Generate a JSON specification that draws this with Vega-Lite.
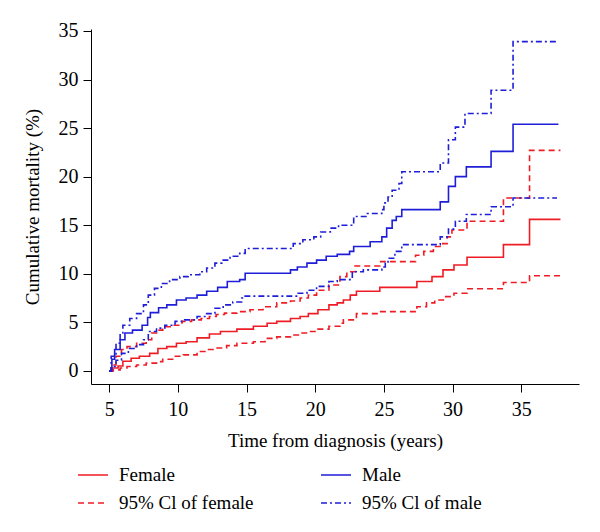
{
  "$schema": "https://vega.github.io/schema/vega-lite/v6.json",
  "width": 488,
  "height": 355,
  "autosize": "none",
  "padding": {"left": 91, "top": 29, "right": 21, "bottom": 148},
  "background": "white",
  "config": {
    "view": {"stroke": null},
    "font": "Liberation Serif",
    "axis": {
      "grid": false,
      "domainColor": "#000000",
      "domainWidth": 1,
      "tickColor": "#000000",
      "tickWidth": 1,
      "tickSize": 8,
      "labelFont": "Liberation Serif",
      "labelFontSize": 20,
      "labelColor": "#000000",
      "titleFont": "Liberation Serif",
      "titleFontSize": 19,
      "titleFontWeight": "normal",
      "titleColor": "#000000"
    },
    "legend": {
      "labelFont": "Liberation Serif",
      "labelFontSize": 19,
      "labelColor": "#000000"
    }
  },
  "data": {
    "values": [
      {"curve":"F","series":"Female","t":5.0,"v":0},{"curve":"F","series":"Female","t":5.2,"v":0.3},{"curve":"F","series":"Female","t":5.65,"v":0.5},{"curve":"F","series":"Female","t":6.0,"v":1.0},{"curve":"F","series":"Female","t":6.6,"v":1.3},{"curve":"F","series":"Female","t":7.2,"v":1.5},{"curve":"F","series":"Female","t":7.95,"v":1.8},{"curve":"F","series":"Female","t":8.55,"v":2.3},{"curve":"F","series":"Female","t":9.2,"v":2.5},{"curve":"F","series":"Female","t":9.9,"v":2.85},{"curve":"F","series":"Female","t":10.6,"v":3.0},{"curve":"F","series":"Female","t":11.4,"v":3.4},{"curve":"F","series":"Female","t":12.3,"v":3.8},{"curve":"F","series":"Female","t":13.1,"v":4.05},{"curve":"F","series":"Female","t":14.3,"v":4.3},{"curve":"F","series":"Female","t":15.5,"v":4.6},{"curve":"F","series":"Female","t":16.5,"v":4.9},{"curve":"F","series":"Female","t":17.2,"v":5.1},{"curve":"F","series":"Female","t":18.2,"v":5.4},{"curve":"F","series":"Female","t":18.9,"v":5.6},{"curve":"F","series":"Female","t":19.5,"v":5.9},{"curve":"F","series":"Female","t":20.2,"v":6.3},{"curve":"F","series":"Female","t":21.0,"v":6.8},{"curve":"F","series":"Female","t":21.6,"v":7.0},{"curve":"F","series":"Female","t":22.05,"v":7.3},{"curve":"F","series":"Female","t":22.55,"v":7.8},{"curve":"F","series":"Female","t":23.0,"v":8.2},{"curve":"F","series":"Female","t":24.7,"v":8.6},{"curve":"F","series":"Female","t":27.4,"v":9.2},{"curve":"F","series":"Female","t":28.5,"v":9.7},{"curve":"F","series":"Female","t":29.3,"v":10.4},{"curve":"F","series":"Female","t":30.1,"v":10.9},{"curve":"F","series":"Female","t":31.05,"v":11.7},{"curve":"F","series":"Female","t":33.7,"v":13.0},{"curve":"F","series":"Female","t":35.6,"v":15.6},{"curve":"F","series":"Female","t":37.85,"v":15.6},

      {"curve":"FU","series":"95% Cl of female","t":5.0,"v":0},{"curve":"FU","series":"95% Cl of female","t":5.15,"v":0.6},{"curve":"FU","series":"95% Cl of female","t":5.5,"v":1.5},{"curve":"FU","series":"95% Cl of female","t":5.9,"v":2.2},{"curve":"FU","series":"95% Cl of female","t":6.3,"v":2.5},{"curve":"FU","series":"95% Cl of female","t":7.0,"v":2.85},{"curve":"FU","series":"95% Cl of female","t":7.7,"v":3.2},{"curve":"FU","series":"95% Cl of female","t":8.1,"v":3.9},{"curve":"FU","series":"95% Cl of female","t":8.45,"v":4.2},{"curve":"FU","series":"95% Cl of female","t":8.9,"v":4.55},{"curve":"FU","series":"95% Cl of female","t":9.55,"v":4.7},{"curve":"FU","series":"95% Cl of female","t":10.3,"v":5.1},{"curve":"FU","series":"95% Cl of female","t":11.0,"v":5.25},{"curve":"FU","series":"95% Cl of female","t":11.7,"v":5.4},{"curve":"FU","series":"95% Cl of female","t":12.3,"v":5.6},{"curve":"FU","series":"95% Cl of female","t":12.8,"v":5.8},{"curve":"FU","series":"95% Cl of female","t":13.4,"v":5.95},{"curve":"FU","series":"95% Cl of female","t":14.3,"v":6.1},{"curve":"FU","series":"95% Cl of female","t":15.25,"v":6.3},{"curve":"FU","series":"95% Cl of female","t":16.2,"v":6.6},{"curve":"FU","series":"95% Cl of female","t":17.2,"v":7.0},{"curve":"FU","series":"95% Cl of female","t":18.2,"v":7.2},{"curve":"FU","series":"95% Cl of female","t":18.9,"v":7.5},{"curve":"FU","series":"95% Cl of female","t":19.5,"v":7.8},{"curve":"FU","series":"95% Cl of female","t":20.1,"v":8.3},{"curve":"FU","series":"95% Cl of female","t":21.0,"v":8.85},{"curve":"FU","series":"95% Cl of female","t":21.8,"v":9.7},{"curve":"FU","series":"95% Cl of female","t":22.3,"v":10.2},{"curve":"FU","series":"95% Cl of female","t":22.9,"v":10.8},{"curve":"FU","series":"95% Cl of female","t":24.7,"v":11.25},{"curve":"FU","series":"95% Cl of female","t":27.3,"v":11.9},{"curve":"FU","series":"95% Cl of female","t":27.9,"v":12.3},{"curve":"FU","series":"95% Cl of female","t":28.6,"v":12.8},{"curve":"FU","series":"95% Cl of female","t":29.2,"v":13.1},{"curve":"FU","series":"95% Cl of female","t":29.6,"v":13.8},{"curve":"FU","series":"95% Cl of female","t":29.95,"v":14.5},{"curve":"FU","series":"95% Cl of female","t":31.05,"v":15.4},{"curve":"FU","series":"95% Cl of female","t":33.7,"v":17.8},{"curve":"FU","series":"95% Cl of female","t":35.6,"v":22.7},{"curve":"FU","series":"95% Cl of female","t":37.85,"v":22.7},

      {"curve":"FL","series":"95% Cl of female","t":5.0,"v":0},{"curve":"FL","series":"95% Cl of female","t":5.3,"v":0.1},{"curve":"FL","series":"95% Cl of female","t":5.8,"v":0.3},{"curve":"FL","series":"95% Cl of female","t":6.3,"v":0.45},{"curve":"FL","series":"95% Cl of female","t":7.0,"v":0.6},{"curve":"FL","series":"95% Cl of female","t":7.7,"v":0.8},{"curve":"FL","series":"95% Cl of female","t":8.45,"v":0.95},{"curve":"FL","series":"95% Cl of female","t":8.9,"v":1.2},{"curve":"FL","series":"95% Cl of female","t":9.7,"v":1.5},{"curve":"FL","series":"95% Cl of female","t":10.4,"v":1.65},{"curve":"FL","series":"95% Cl of female","t":11.4,"v":2.0},{"curve":"FL","series":"95% Cl of female","t":12.1,"v":2.2},{"curve":"FL","series":"95% Cl of female","t":12.8,"v":2.35},{"curve":"FL","series":"95% Cl of female","t":13.55,"v":2.6},{"curve":"FL","series":"95% Cl of female","t":14.3,"v":2.85},{"curve":"FL","series":"95% Cl of female","t":15.5,"v":3.0},{"curve":"FL","series":"95% Cl of female","t":16.35,"v":3.35},{"curve":"FL","series":"95% Cl of female","t":17.2,"v":3.5},{"curve":"FL","series":"95% Cl of female","t":18.2,"v":3.7},{"curve":"FL","series":"95% Cl of female","t":18.9,"v":3.9},{"curve":"FL","series":"95% Cl of female","t":19.6,"v":4.05},{"curve":"FL","series":"95% Cl of female","t":20.2,"v":4.3},{"curve":"FL","series":"95% Cl of female","t":21.0,"v":4.6},{"curve":"FL","series":"95% Cl of female","t":21.8,"v":4.9},{"curve":"FL","series":"95% Cl of female","t":22.05,"v":5.25},{"curve":"FL","series":"95% Cl of female","t":23.0,"v":5.9},{"curve":"FL","series":"95% Cl of female","t":24.7,"v":6.1},{"curve":"FL","series":"95% Cl of female","t":27.4,"v":6.6},{"curve":"FL","series":"95% Cl of female","t":28.1,"v":7.0},{"curve":"FL","series":"95% Cl of female","t":28.7,"v":7.3},{"curve":"FL","series":"95% Cl of female","t":29.5,"v":7.65},{"curve":"FL","series":"95% Cl of female","t":30.1,"v":8.0},{"curve":"FL","series":"95% Cl of female","t":31.05,"v":8.45},{"curve":"FL","series":"95% Cl of female","t":33.7,"v":9.1},{"curve":"FL","series":"95% Cl of female","t":35.6,"v":9.8},{"curve":"FL","series":"95% Cl of female","t":37.85,"v":9.8},

      {"curve":"M","series":"Male","t":5.0,"v":0},{"curve":"M","series":"Male","t":5.2,"v":1.2},{"curve":"M","series":"Male","t":5.4,"v":2.2},{"curve":"M","series":"Male","t":5.8,"v":3.2},{"curve":"M","series":"Male","t":6.15,"v":3.9},{"curve":"M","series":"Male","t":6.7,"v":4.2},{"curve":"M","series":"Male","t":7.4,"v":4.7},{"curve":"M","series":"Male","t":7.8,"v":5.5},{"curve":"M","series":"Male","t":8.0,"v":6.0},{"curve":"M","series":"Male","t":8.6,"v":6.5},{"curve":"M","series":"Male","t":9.2,"v":6.8},{"curve":"M","series":"Male","t":9.9,"v":7.3},{"curve":"M","series":"Male","t":10.6,"v":7.5},{"curve":"M","series":"Male","t":11.4,"v":7.8},{"curve":"M","series":"Male","t":12.1,"v":8.2},{"curve":"M","series":"Male","t":12.9,"v":8.6},{"curve":"M","series":"Male","t":13.6,"v":9.2},{"curve":"M","series":"Male","t":14.5,"v":9.4},{"curve":"M","series":"Male","t":14.9,"v":10.05},{"curve":"M","series":"Male","t":18.2,"v":10.4},{"curve":"M","series":"Male","t":18.7,"v":10.7},{"curve":"M","series":"Male","t":19.4,"v":11.1},{"curve":"M","series":"Male","t":20.1,"v":11.4},{"curve":"M","series":"Male","t":20.8,"v":11.8},{"curve":"M","series":"Male","t":21.6,"v":12.0},{"curve":"M","series":"Male","t":22.5,"v":12.3},{"curve":"M","series":"Male","t":22.8,"v":12.8},{"curve":"M","series":"Male","t":24.0,"v":13.3},{"curve":"M","series":"Male","t":24.85,"v":13.8},{"curve":"M","series":"Male","t":25.2,"v":14.7},{"curve":"M","series":"Male","t":25.6,"v":15.5},{"curve":"M","series":"Male","t":25.9,"v":15.9},{"curve":"M","series":"Male","t":26.3,"v":16.6},{"curve":"M","series":"Male","t":29.1,"v":17.4},{"curve":"M","series":"Male","t":29.7,"v":19.0},{"curve":"M","series":"Male","t":30.2,"v":20.0},{"curve":"M","series":"Male","t":31.0,"v":21.0},{"curve":"M","series":"Male","t":32.8,"v":22.6},{"curve":"M","series":"Male","t":34.4,"v":25.4},{"curve":"M","series":"Male","t":37.7,"v":25.4},

      {"curve":"MU","series":"95% Cl of male","t":5.0,"v":0},{"curve":"MU","series":"95% Cl of male","t":5.15,"v":1.5},{"curve":"MU","series":"95% Cl of male","t":5.5,"v":2.85},{"curve":"MU","series":"95% Cl of male","t":5.8,"v":3.9},{"curve":"MU","series":"95% Cl of male","t":6.0,"v":4.7},{"curve":"MU","series":"95% Cl of male","t":6.5,"v":5.4},{"curve":"MU","series":"95% Cl of male","t":7.0,"v":5.9},{"curve":"MU","series":"95% Cl of male","t":7.5,"v":6.8},{"curve":"MU","series":"95% Cl of male","t":7.85,"v":7.8},{"curve":"MU","series":"95% Cl of male","t":8.3,"v":8.5},{"curve":"MU","series":"95% Cl of male","t":8.8,"v":9.0},{"curve":"MU","series":"95% Cl of male","t":9.4,"v":9.4},{"curve":"MU","series":"95% Cl of male","t":10.15,"v":9.7},{"curve":"MU","series":"95% Cl of male","t":10.75,"v":9.9},{"curve":"MU","series":"95% Cl of male","t":11.6,"v":10.2},{"curve":"MU","series":"95% Cl of male","t":12.1,"v":10.6},{"curve":"MU","series":"95% Cl of male","t":12.7,"v":11.1},{"curve":"MU","series":"95% Cl of male","t":13.2,"v":11.4},{"curve":"MU","series":"95% Cl of male","t":13.8,"v":11.8},{"curve":"MU","series":"95% Cl of male","t":14.5,"v":12.1},{"curve":"MU","series":"95% Cl of male","t":14.9,"v":12.6},{"curve":"MU","series":"95% Cl of male","t":18.4,"v":13.1},{"curve":"MU","series":"95% Cl of male","t":19.1,"v":13.5},{"curve":"MU","series":"95% Cl of male","t":19.9,"v":13.8},{"curve":"MU","series":"95% Cl of male","t":20.4,"v":14.3},{"curve":"MU","series":"95% Cl of male","t":21.1,"v":14.7},{"curve":"MU","series":"95% Cl of male","t":21.7,"v":15.0},{"curve":"MU","series":"95% Cl of male","t":22.8,"v":15.9},{"curve":"MU","series":"95% Cl of male","t":23.8,"v":16.2},{"curve":"MU","series":"95% Cl of male","t":24.85,"v":16.6},{"curve":"MU","series":"95% Cl of male","t":25.0,"v":17.3},{"curve":"MU","series":"95% Cl of male","t":25.3,"v":17.9},{"curve":"MU","series":"95% Cl of male","t":25.6,"v":18.6},{"curve":"MU","series":"95% Cl of male","t":26.1,"v":19.3},{"curve":"MU","series":"95% Cl of male","t":26.3,"v":20.5},{"curve":"MU","series":"95% Cl of male","t":29.1,"v":21.4},{"curve":"MU","series":"95% Cl of male","t":29.7,"v":23.8},{"curve":"MU","series":"95% Cl of male","t":30.2,"v":25.1},{"curve":"MU","series":"95% Cl of male","t":30.9,"v":26.5},{"curve":"MU","series":"95% Cl of male","t":32.8,"v":28.9},{"curve":"MU","series":"95% Cl of male","t":34.4,"v":33.9},{"curve":"MU","series":"95% Cl of male","t":37.6,"v":33.9},

      {"curve":"ML","series":"95% Cl of male","t":5.0,"v":0},{"curve":"ML","series":"95% Cl of male","t":5.15,"v":0.45},{"curve":"ML","series":"95% Cl of male","t":5.5,"v":1.1},{"curve":"ML","series":"95% Cl of male","t":5.9,"v":1.8},{"curve":"ML","series":"95% Cl of male","t":6.4,"v":2.3},{"curve":"ML","series":"95% Cl of male","t":7.0,"v":2.7},{"curve":"ML","series":"95% Cl of male","t":7.5,"v":3.2},{"curve":"ML","series":"95% Cl of male","t":7.85,"v":4.05},{"curve":"ML","series":"95% Cl of male","t":8.45,"v":4.4},{"curve":"ML","series":"95% Cl of male","t":9.05,"v":4.7},{"curve":"ML","series":"95% Cl of male","t":9.8,"v":5.1},{"curve":"ML","series":"95% Cl of male","t":10.5,"v":5.25},{"curve":"ML","series":"95% Cl of male","t":11.4,"v":5.6},{"curve":"ML","series":"95% Cl of male","t":12.1,"v":5.9},{"curve":"ML","series":"95% Cl of male","t":12.7,"v":6.45},{"curve":"ML","series":"95% Cl of male","t":13.3,"v":6.8},{"curve":"ML","series":"95% Cl of male","t":14.0,"v":7.1},{"curve":"ML","series":"95% Cl of male","t":14.65,"v":7.5},{"curve":"ML","series":"95% Cl of male","t":14.9,"v":7.7},{"curve":"ML","series":"95% Cl of male","t":18.7,"v":8.0},{"curve":"ML","series":"95% Cl of male","t":19.4,"v":8.3},{"curve":"ML","series":"95% Cl of male","t":20.1,"v":8.7},{"curve":"ML","series":"95% Cl of male","t":21.0,"v":9.2},{"curve":"ML","series":"95% Cl of male","t":21.6,"v":9.4},{"curve":"ML","series":"95% Cl of male","t":22.7,"v":10.2},{"curve":"ML","series":"95% Cl of male","t":23.5,"v":10.4},{"curve":"ML","series":"95% Cl of male","t":24.85,"v":10.7},{"curve":"ML","series":"95% Cl of male","t":25.1,"v":11.1},{"curve":"ML","series":"95% Cl of male","t":25.3,"v":11.6},{"curve":"ML","series":"95% Cl of male","t":25.8,"v":12.3},{"curve":"ML","series":"95% Cl of male","t":26.3,"v":13.0},{"curve":"ML","series":"95% Cl of male","t":29.1,"v":13.8},{"curve":"ML","series":"95% Cl of male","t":29.7,"v":14.6},{"curve":"ML","series":"95% Cl of male","t":30.2,"v":15.4},{"curve":"ML","series":"95% Cl of male","t":31.0,"v":16.1},{"curve":"ML","series":"95% Cl of male","t":32.8,"v":16.9},{"curve":"ML","series":"95% Cl of male","t":34.4,"v":17.8},{"curve":"ML","series":"95% Cl of male","t":37.6,"v":17.8}
    ]
  },
  "mark": {"type": "line", "interpolate": "step-after", "strokeWidth": 1.6},
  "encoding": {
    "x": {
      "field": "t", "type": "quantitative",
      "scale": {"domain": [3.68, 39.2], "nice": false, "zero": false},
      "axis": {"values": [5, 10, 15, 20, 25, 30, 35], "title": "Time from diagnosis (years)", "titlePadding": 12, "labelPadding": 7, "labelFlush": false}
    },
    "y": {
      "field": "v", "type": "quantitative",
      "scale": {"domain": [-1.35, 35.2], "nice": false, "zero": false},
      "axis": {"values": [0, 5, 10, 15, 20, 25, 30, 35], "title": "Cumulative mortality (%)", "titlePadding": 16, "labelPadding": 5, "labelFlush": false}
    },
    "detail": {"field": "curve"},
    "color": {
      "field": "series", "type": "nominal",
      "scale": {
        "domain": ["Female", "95% Cl of female", "Male", "95% Cl of male"],
        "range": ["#ee1c24", "#ee1c24", "#1e1ed8", "#1e1ed8"]
      },
      "legend": {
        "title": null,
        "orient": "none",
        "legendX": -14,
        "legendY": 430,
        "columns": 2,
        "columnPadding": 63,
        "rowPadding": 2,
        "symbolType": "stroke",
        "symbolSize": 900,
        "symbolStrokeWidth": 1.6,
        "labelOffset": 10
      }
    },
    "strokeDash": {
      "field": "series", "type": "nominal",
      "scale": {
        "domain": ["Female", "95% Cl of female", "Male", "95% Cl of male"],
        "range": [[1, 0], [6, 4], [1, 0], [6, 3, 2, 3]]
      },
      "legend": null
    }
  }
}
